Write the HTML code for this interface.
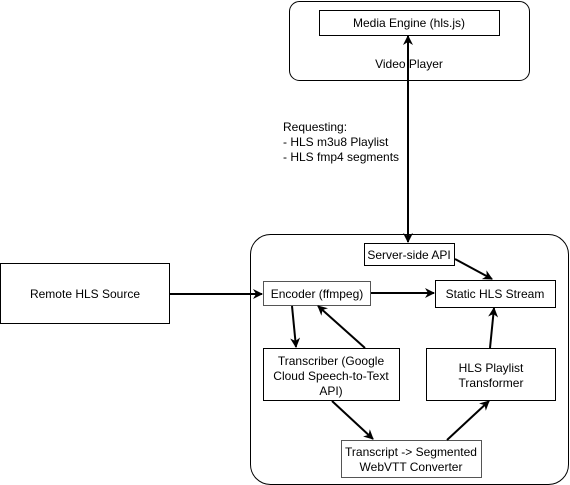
<!DOCTYPE html>
<html><head><style>
html,body{margin:0;padding:0;background:#fff;}
svg{display:block;}
text{font-family:"Liberation Sans",Helvetica,Arial,sans-serif;font-size:12px;fill:#000;}
</style></head><body>
<svg width="570" height="485" viewBox="0 0 570 485" xmlns="http://www.w3.org/2000/svg">
<defs>
<marker id="a" viewBox="0 0 10 10" refX="9" refY="5" markerWidth="10" markerHeight="10" orient="auto-start-reverse" markerUnits="userSpaceOnUse">
<path d="M0,0 L10,5 L0,10 L3,5 Z" fill="#000"/>
</marker>
</defs>
<g fill="#fff" stroke="#000" stroke-width="1">
<rect x="289.5" y="1.5" width="240" height="79" rx="10"/>
<rect x="319.5" y="10.5" width="180" height="25"/>
<rect x="250.5" y="234.5" width="318" height="250" rx="20"/>
<rect x="0.5" y="263.5" width="169" height="60"/>
<rect x="364.5" y="243.5" width="90" height="22"/>
<rect x="263.5" y="281.5" width="107" height="24" stroke="#555"/>
<rect x="435.5" y="280.5" width="120" height="27"/>
<rect x="263.5" y="348.5" width="136" height="52"/>
<rect x="426.5" y="348.5" width="129" height="52"/>
<rect x="341.5" y="440.5" width="140" height="37" stroke="#555"/>
</g>
<text x="409" y="27" text-anchor="middle">Media Engine (hls.js)</text>
<text x="409" y="68" text-anchor="middle">Video Player</text>
<text x="283" y="131">Requesting:</text>
<text x="283" y="146">- HLS m3u8 Playlist</text>
<text x="283" y="161">- HLS fmp4 segments</text>
<text x="85" y="298" text-anchor="middle">Remote HLS Source</text>
<text x="409" y="259" text-anchor="middle">Server-side API</text>
<text x="317" y="298" text-anchor="middle">Encoder (ffmpeg)</text>
<text x="495" y="298" text-anchor="middle">Static HLS Stream</text>
<text x="331" y="365" text-anchor="middle">Transcriber (Google</text>
<text x="331" y="380" text-anchor="middle">Cloud Speech-to-Text</text>
<text x="331" y="395" text-anchor="middle">API)</text>
<text x="491" y="372" text-anchor="middle">HLS Playlist</text>
<text x="491" y="387" text-anchor="middle">Transformer</text>
<text x="411" y="456" text-anchor="middle">Transcript -&gt; Segmented</text>
<text x="411" y="471" text-anchor="middle">WebVTT Converter</text>
<g stroke="#000" stroke-width="2" fill="none">
<line x1="408" y1="36" x2="408" y2="242" marker-start="url(#a)" marker-end="url(#a)"/>
<line x1="170" y1="294" x2="262" y2="294" marker-end="url(#a)"/>
<line x1="371" y1="293" x2="434" y2="293" marker-end="url(#a)"/>
<line x1="455" y1="259" x2="492" y2="279" marker-end="url(#a)"/>
<line x1="292" y1="306" x2="296" y2="347" marker-end="url(#a)"/>
<line x1="365" y1="348" x2="318" y2="306" marker-end="url(#a)"/>
<line x1="332" y1="401" x2="373" y2="439" marker-end="url(#a)"/>
<line x1="447" y1="440" x2="489" y2="401" marker-end="url(#a)"/>
<line x1="490" y1="348" x2="494" y2="308" marker-end="url(#a)"/>
</g>
</svg>
</body></html>
